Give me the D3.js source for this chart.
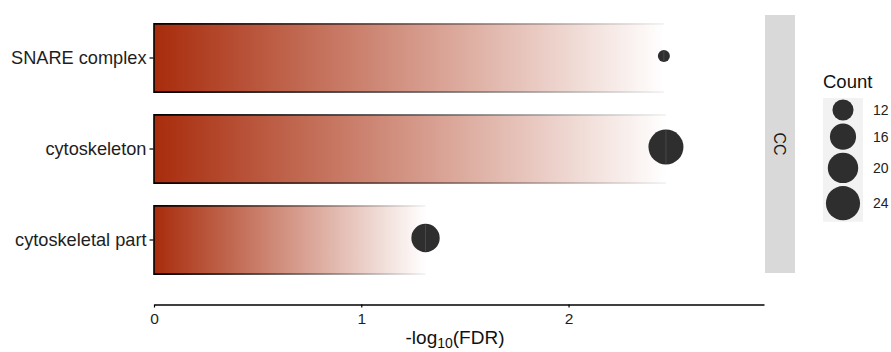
<!DOCTYPE html>
<html>
<head>
<meta charset="utf-8">
<script src="https://cdn.jsdelivr.net/npm/d3@7"></script>
<style>
  body { margin: 0; background: #fff; }
  svg text { font-family: "Liberation Sans", Arial, Helvetica, sans-serif; }
</style>
</head>
<body>
<div id="chart"></div>
<script>
// GO terms, top to bottom
const terms = ["SNARE complex", "cytoskeleton", "cytoskeletal part"];
const negLogFDR = [2.46, 2.47, 1.31];
const counts = [7, 25, 18];
const facetLabel = "CC";
const xTicks = [0, 1, 2];
const sizeBreaks = [12, 16, 20, 24];

const width = 891, height = 352;
const panel = { left: 154, right: 764, top: 15, bottom: 273 };
const barColor = "#a82c0c";
const dotColor = "#2e2e2e";

const svg = d3.select("#chart").append("svg")
    .attr("width", width)
    .attr("height", height);

const defs = svg.append("defs");

const x = d3.scaleLinear()
    .domain([0, 2.943])
    .range([panel.left, panel.right]);

const y = d3.scaleBand()
    .domain(terms)
    .range([12.5, 285.5])
    .paddingInner(0.25)
    .paddingOuter(0.125);

const size = d3.scaleLinear()
    .domain(d3.extent(counts))
    .range([36, 306]);
const radius = c => Math.sqrt(size(c));

const rows = terms.map((t, i) => ({ term: t, value: negLogFDR[i], count: counts[i] }));

// bars with a fading fill and fading outline
rows.forEach((d, i) => {
    const x0 = x(0), x1 = x(d.value);
    const fill = defs.append("linearGradient")
        .attr("id", "fill" + i)
        .attr("gradientUnits", "userSpaceOnUse")
        .attr("x1", x0).attr("x2", x1).attr("y1", 0).attr("y2", 0);
    fill.append("stop").attr("offset", 0).attr("stop-color", barColor);
    fill.append("stop").attr("offset", 1).attr("stop-color", "#ffffff");

    const edge = defs.append("linearGradient")
        .attr("id", "edge" + i)
        .attr("gradientUnits", "userSpaceOnUse")
        .attr("x1", x0).attr("x2", x1).attr("y1", 0).attr("y2", 0);
    edge.append("stop").attr("offset", 0).attr("stop-color", "#000").attr("stop-opacity", 1);
    edge.append("stop").attr("offset", 1).attr("stop-color", "#000").attr("stop-opacity", 0.05);
});

const bars = svg.append("g");
bars.selectAll("rect")
    .data(rows)
    .enter()
    .append("rect")
    .attr("x", x(0))
    .attr("y", d => y(d.term))
    .attr("width", d => x(d.value) - x(0))
    .attr("height", y.bandwidth())
    .attr("fill", (d, i) => `url(#fill${i})`);

bars.selectAll("path")
    .data(rows)
    .enter()
    .append("path")
    .attr("d", d => {
        const x0 = x(0), x1 = x(d.value), y0 = y(d.term), y1 = y0 + y.bandwidth();
        return `M${x1},${y0}H${x0}V${y1}H${x1}`;
    })
    .attr("fill", "none")
    .attr("stroke", (d, i) => `url(#edge${i})`)
    .attr("stroke-width", 1.6);

// count dots
const dotY = d => y(d.term) + y.bandwidth() / 2 - 2;
const dots = svg.append("g");
dots.selectAll("circle")
    .data(rows)
    .enter()
    .append("circle")
    .attr("cx", d => x(d.value))
    .attr("cy", dotY)
    .attr("r", d => radius(d.count))
    .attr("fill", dotColor);

dots.selectAll("line")
    .data(rows)
    .enter()
    .append("line")
    .attr("x1", d => x(d.value)).attr("x2", d => x(d.value))
    .attr("y1", d => dotY(d) - radius(d.count) + 1)
    .attr("y2", d => dotY(d) + radius(d.count) - 1)
    .attr("stroke", "#555")
    .attr("stroke-width", 0.7);

// y axis: ticks and labels only
const yAxis = svg.append("g")
    .attr("transform", `translate(${panel.left - 0.5},0)`)
    .call(d3.axisLeft(y).tickSize(4).tickPadding(3));
yAxis.select(".domain").remove();
yAxis.selectAll(".tick line").attr("stroke", "#000").attr("stroke-width", 1.2);
yAxis.selectAll(".tick text")
    .attr("fill", "#1e1e1e")
    .style("font-size", "18.2px");

// x axis
const xAxis = svg.append("g")
    .attr("transform", "translate(0,304.5)")
    .call(d3.axisBottom(x).tickValues(xTicks).tickFormat(d3.format("d")).tickSize(3).tickSizeOuter(0).tickPadding(5));
xAxis.select(".domain").attr("stroke", "#000").attr("stroke-width", 1.6);
xAxis.selectAll(".tick line").attr("stroke", "#000").attr("stroke-width", 1.2);
xAxis.selectAll(".tick text")
    .attr("fill", "#1e1e1e")
    .style("font-size", "15.5px");

const xTitle = svg.append("text")
    .attr("x", (panel.left + panel.right) / 2 - 4)
    .attr("y", 344)
    .attr("text-anchor", "middle")
    .attr("fill", "#111")
    .style("font-size", "19px");
xTitle.append("tspan").text("-log");
xTitle.append("tspan").attr("dy", 3.5).style("font-size", "14px").text("10");
xTitle.append("tspan").attr("dy", -3.5).text("(FDR)");

// facet strip
svg.append("rect")
    .attr("x", 765).attr("y", panel.top)
    .attr("width", 30).attr("height", panel.bottom - panel.top)
    .attr("fill", "#d9d9d9");
svg.append("text")
    .attr("transform", `translate(780,${(panel.top + panel.bottom) / 2}) rotate(90)`)
    .attr("text-anchor", "middle")
    .attr("dy", "0.35em")
    .attr("fill", "#1a1a1a")
    .style("font-size", "16px")
    .text(facetLabel);

// size legend
const legend = svg.append("g").attr("transform", "translate(823,0)");
legend.append("text")
    .attr("x", 0).attr("y", 88)
    .attr("fill", "#111")
    .style("font-size", "18.5px")
    .text("Count");

let ky = 98;
const keys = sizeBreaks.map(b => {
    const h = 2 * radius(b) + 3;
    const k = { count: b, top: ky, h: h };
    ky += h;
    return k;
});
legend.append("rect")
    .attr("x", 0).attr("y", 98)
    .attr("width", 40).attr("height", ky - 98)
    .attr("fill", "#f2f2f2");
legend.selectAll("circle")
    .data(keys)
    .enter()
    .append("circle")
    .attr("cx", 20)
    .attr("cy", d => d.top + d.h / 2)
    .attr("r", d => radius(d.count))
    .attr("fill", dotColor);
legend.selectAll("text.lab")
    .data(keys)
    .enter()
    .append("text")
    .attr("class", "lab")
    .attr("x", 50)
    .attr("y", d => d.top + d.h / 2)
    .attr("dy", "0.35em")
    .attr("fill", "#222")
    .style("font-size", "14px")
    .text(d => d.count);
</script>
</body>
</html>
